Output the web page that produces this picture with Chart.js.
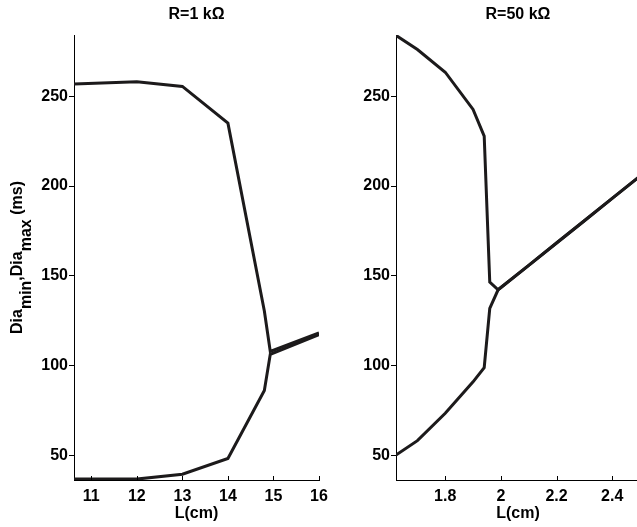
<!DOCTYPE html>
<html lang="en">
<head>
<meta charset="UTF-8">
<title>Dia min / Dia max vs L</title>
<script src="https://cdn.jsdelivr.net/npm/chart.js"></script>
<style>
    html, body { margin: 0; padding: 0; background: #fff; overflow: hidden; }
    body { width: 637px; height: 527px; position: relative; }
    canvas { position: absolute; top: 0; }
    #leftChart { left: 0; }
    #rightChart { left: 320px; }
</style>
</head>
<body>
<canvas id="leftChart" width="340" height="527"></canvas>
<canvas id="rightChart" width="340" height="527"></canvas>
<script>
// R = 1 kOhm panel
const leftL = [10.62, 12, 13, 14, 14.8, 14.93, 16];
const leftDiaMax = [256.7, 258, 255.4, 235, 130.5, 108, 118.3];
const leftDiaMin = [37, 37, 39.7, 48.5, 86.3, 106.4, 117.4];

// R = 50 kOhm panel
const rightL = [1.623, 1.7, 1.8, 1.9, 1.94, 1.96, 1.99, 2.1, 2.2, 2.3, 2.4, 2.5];
const rightDiaMax = [283.8, 275.9, 263.3, 242.6, 227.8, 146.6, 142.3, 155.9, 168.3, 180.7, 193.1, 205.5];
const rightDiaMin = [50.4, 58.4, 73.6, 91.1, 99, 132, 142.3, 155.9, 168.3, 180.7, 193.1, 205.5];

const leftXTicks = [11, 12, 13, 14, 15, 16];
const rightXTicks = [1.8, 2, 2.2, 2.4];
const yTicks = [50, 100, 150, 200, 250];

const FAMILY = '"Liberation Sans", Arial, Helvetica, sans-serif';
const INK = '#1c1a1b';

function pts(xs, ys) {
    return xs.map((x, i) => ({ x: x, y: ys[i] }));
}

function lineSet(data) {
    return {
        data: data,
        showLine: true,
        borderColor: INK,
        borderWidth: 3,
        pointRadius: 0,
        tension: 0,
        fill: false
    };
}

// titles, inward x ticks and the subscripted y title
const decor = {
    id: 'decor',
    afterDraw(chart, args, opts) {
        const ctx = chart.ctx;
        const ca = chart.chartArea;
        const xs = chart.scales.x;
        ctx.save();
        ctx.fillStyle = '#000';
        ctx.font = 'bold 16px ' + FAMILY;
        ctx.textAlign = 'center';
        ctx.textBaseline = 'alphabetic';
        ctx.fillText(opts.title, (ca.left + ca.right) / 2, 19);

        ctx.strokeStyle = '#000';
        ctx.lineWidth = 1;
        xs.ticks.forEach(t => {
            const px = Math.round(xs.getPixelForValue(t.value)) + 0.5;
            ctx.beginPath();
            ctx.moveTo(px, ca.bottom);
            ctx.lineTo(px, ca.bottom - 4);
            ctx.stroke();
        });

        if (opts.yTitle) {
            const parts = [
                ['Dia', 0], ['min', 9], [',Dia', 0], ['max', 9], [' (ms)', 0]
            ];
            let total = 0;
            parts.forEach(p => { total += ctx.measureText(p[0]).width; });
            ctx.translate(22, (ca.top + ca.bottom) / 2);
            ctx.rotate(-Math.PI / 2);
            ctx.textAlign = 'left';
            let x = -total / 2;
            parts.forEach(p => {
                ctx.fillText(p[0], x, p[1]);
                x += ctx.measureText(p[0]).width;
            });
        }
        ctx.restore();
    }
};

function makeChart(id, xs, maxs, mins, xMin, xMax, xTicks, yWidth, padRight, title, yTitle) {
    return new Chart(document.getElementById(id), {
        type: 'scatter',
        data: {
            datasets: [lineSet(pts(xs, maxs)), lineSet(pts(xs, mins))]
        },
        options: {
            responsive: false,
            animation: false,
            layout: { padding: { left: 0, right: padRight, top: 35, bottom: 0 } },
            plugins: {
                legend: { display: false },
                tooltip: { enabled: false },
                decor: { title: title, yTitle: yTitle }
            },
            scales: {
                x: {
                    type: 'linear',
                    min: xMin,
                    max: xMax,
                    afterBuildTicks: s => { s.ticks = xTicks.map(v => ({ value: v })); },
                    afterFit: s => {
                        s.height = 47;
                        s.paddingLeft = s.paddingRight = s.paddingTop = s.paddingBottom = 0;
                    },
                    grid: { display: true, drawOnChartArea: false, drawTicks: false },
                    border: { display: true, color: '#000', width: 1 },
                    ticks: {
                        color: '#000',
                        padding: 7,
                        maxRotation: 0,
                        autoSkip: false,
                        font: { family: FAMILY, size: 16, weight: 'bold' },
                        callback: v => String(v)
                    },
                    title: {
                        display: true,
                        text: 'L(cm)',
                        color: '#000',
                        font: { family: FAMILY, size: 16, weight: 'bold' },
                        padding: { top: 0, bottom: 4 }
                    }
                },
                y: {
                    type: 'linear',
                    min: 36.5,
                    max: 284,
                    afterBuildTicks: s => { s.ticks = yTicks.map(v => ({ value: v })); },
                    afterFit: s => {
                        s.width = yWidth;
                        s.paddingLeft = s.paddingRight = s.paddingTop = s.paddingBottom = 0;
                    },
                    grid: { display: true, drawOnChartArea: false, drawTicks: true, tickLength: 5, color: '#000', lineWidth: 1 },
                    border: { display: true, color: '#000', width: 1 },
                    ticks: {
                        color: '#000',
                        padding: 1,
                        autoSkip: false,
                        font: { family: FAMILY, size: 16, weight: 'bold' },
                        callback: v => String(v)
                    }
                }
            }
        },
        plugins: [decor]
    });
}

makeChart('leftChart', leftL, leftDiaMax, leftDiaMin, 10.62, 16, leftXTicks, 74, 21, 'R=1 k\u03A9', true);
makeChart('rightChart', rightL, rightDiaMax, rightDiaMin, 1.623, 2.5, rightXTicks, 76, 20, 'R=50 k\u03A9', false);
</script>
</body>
</html>
